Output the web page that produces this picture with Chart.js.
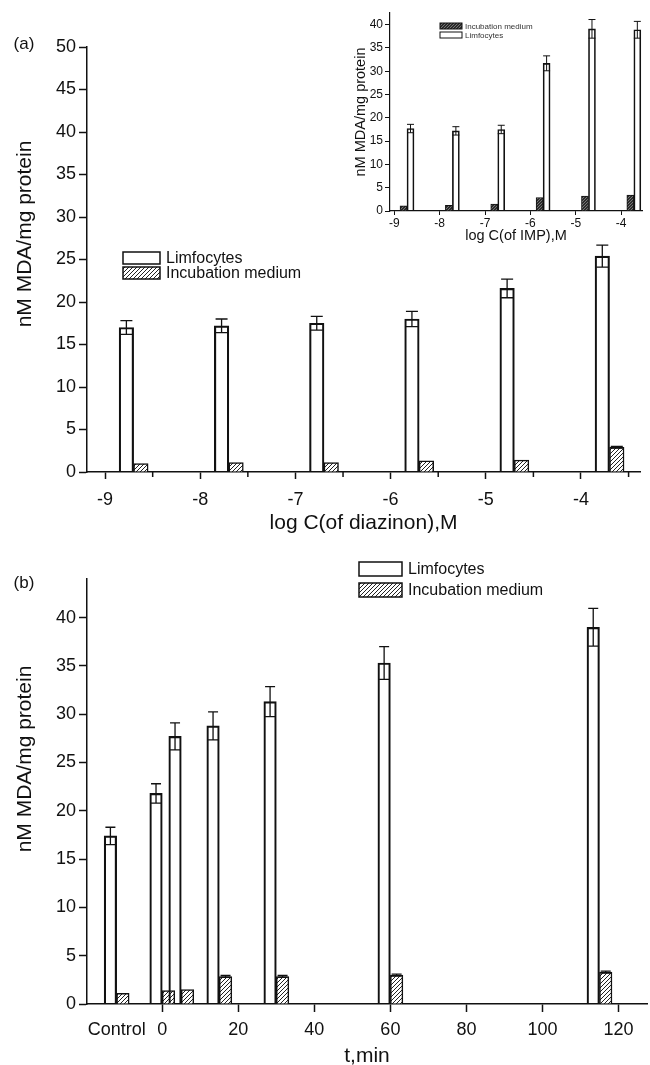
<!DOCTYPE html>
<html>
<head>
<meta charset="utf-8">
<script src="https://cdn.jsdelivr.net/npm/chart.js@4.4.0/dist/chart.umd.min.js"></script>
<style>
body { margin: 0; background: #fff; }
#wrap { position: relative; width: 650px; height: 1065px; }
canvas { position: absolute; }
</style>
</head>
<body>
<div id="wrap">
  <canvas id="chartA" width="650" height="540" style="left:0;top:0"></canvas>
  <canvas id="chartB" width="650" height="525" style="left:0;top:540px"></canvas>
  <canvas id="chartIn" width="310" height="250" style="left:340px;top:0"></canvas>
</div>
<script>
// (a) diazinon
var concA = [-9, -8, -7, -6, -5, -4];
var limA = [17.0, 17.2, 17.5, 18.0, 21.6, 25.4];
var limErrA = [0.8, 0.8, 0.8, 0.9, 1.1, 1.3];
var medA = [1.0, 1.1, 1.1, 1.3, 1.4, 2.9];
var medErrA = [0, 0, 0, 0, 0, 0.1];
var yTicksA = [0, 5, 10, 15, 20, 25, 30, 35, 40, 45, 50];
var minorA = [-8.5, -7.5, -6.5, -5.5, -4.5, -3.5];

// inset: IMP
var concIn = [-9, -8, -7, -6, -5, -4];
var medIn = [1.1, 1.2, 1.5, 2.9, 3.2, 3.4];
var limIn = [17.7, 17.2, 17.5, 31.7, 39.1, 38.9];
var limErrIn = [0.9, 0.9, 0.9, 1.6, 2.0, 1.8];
var yTicksIn = [0, 5, 10, 15, 20, 25, 30, 35, 40];

// (b) time course, -12 is the Control slot
var timeB = [-12, 0, 5, 15, 30, 60, 115];
var limB = [17.4, 21.8, 27.7, 28.8, 31.3, 35.3, 39.0];
var limErrB = [0.9, 1.0, 1.4, 1.45, 1.55, 1.7, 1.95];
var medB = [1.1, 1.4, 1.5, 2.85, 2.85, 3.0, 3.3];
var medErrB = [0, 0, 0, 0.1, 0.1, 0.1, 0.1];
var xTicksB = [-12, 0, 20, 40, 60, 80, 100, 120];
var yTicksB = [0, 5, 10, 15, 20, 25, 30, 35, 40];

var FONT = "'Liberation Sans', Arial, sans-serif";
var INK = '#111';
Chart.defaults.font.family = FONT;
Chart.defaults.color = INK;

function hatch(bg, fg, step, lw) {
    var c = document.createElement('canvas');
    c.width = step; c.height = step;
    var g = c.getContext('2d');
    g.fillStyle = bg;
    g.fillRect(0, 0, step, step);
    g.strokeStyle = fg;
    g.lineWidth = lw;
    g.beginPath();
    g.moveTo(-1, step + 1); g.lineTo(step + 1, -1);
    g.moveTo(-1, 1); g.lineTo(1, -1);
    g.moveTo(step - 1, step + 1); g.lineTo(step + 1, step - 1);
    g.stroke();
    return g.createPattern(c, 'repeat');
}
var hatchLight = hatch('#fff', '#222', 4, 1);
var hatchDark = hatch('#2b2b2b', '#8a8a8a', 3, 0.8);

function pts(xs, ys, shift) {
    return xs.map(function(x, i) { return {x: x + shift, y: ys[i]}; });
}
function fixTicks(list) {
    return function(s) { s.ticks = list.map(function(v) { return {value: v}; }); };
}

var errorBars = {
    id: 'errorBars',
    afterDatasetsDraw: function(chart, args, opts) {
        var ctx = chart.ctx, ys = chart.scales.y;
        ctx.save();
        ctx.strokeStyle = INK;
        ctx.lineWidth = opts.width;
        chart.data.datasets.forEach(function(ds, di) {
            if (!ds.errors) return;
            chart.getDatasetMeta(di).data.forEach(function(bar, i) {
                var e = ds.errors[i];
                if (!e) return;
                var v = ds.data[i].y, c = opts.cap;
                var t = ys.getPixelForValue(v + e), b = ys.getPixelForValue(v - e);
                ctx.beginPath();
                ctx.moveTo(bar.x, t); ctx.lineTo(bar.x, b);
                ctx.moveTo(bar.x - c, t); ctx.lineTo(bar.x + c, t);
                ctx.moveTo(bar.x - c, b); ctx.lineTo(bar.x + c, b);
                ctx.stroke();
            });
        });
        ctx.restore();
    }
};

var minorTicks = {
    id: 'minorTicks',
    afterDraw: function(chart, args, opts) {
        if (!opts.values) return;
        var xs = chart.scales.x, ctx = chart.ctx, y0 = chart.chartArea.bottom;
        ctx.save();
        ctx.strokeStyle = INK;
        ctx.lineWidth = 1.5;
        opts.values.forEach(function(v) {
            var px = xs.getPixelForValue(v);
            ctx.beginPath();
            ctx.moveTo(px, y0);
            ctx.lineTo(px, y0 + opts.length);
            ctx.stroke();
        });
        ctx.restore();
    }
};

var boxLegend = {
    id: 'boxLegend',
    afterDraw: function(chart, args, opts) {
        var ctx = chart.ctx;
        ctx.save();
        ctx.font = opts.size + 'px ' + FONT;
        ctx.textBaseline = 'middle';
        chart.data.datasets.forEach(function(ds, i) {
            var y = opts.y + i * opts.step;
            ctx.fillStyle = '#fff';
            ctx.fillRect(opts.x, y, opts.w, opts.h);
            ctx.fillStyle = ds.backgroundColor;
            ctx.fillRect(opts.x, y, opts.w, opts.h);
            ctx.lineWidth = opts.line;
            ctx.strokeStyle = INK;
            ctx.strokeRect(opts.x, y, opts.w, opts.h);
            ctx.fillStyle = opts.color || INK;
            ctx.fillText(ds.label, opts.x + opts.w + opts.gap, y + opts.h / 2 + 1);
        });
        ctx.restore();
    }
};

var notes = {
    id: 'notes',
    afterDraw: function(chart, args, opts) {
        var ctx = chart.ctx;
        (opts.items || []).forEach(function(n) {
            ctx.save();
            ctx.font = n.size + 'px ' + FONT;
            ctx.fillStyle = INK;
            ctx.textAlign = 'center';
            ctx.textBaseline = 'middle';
            ctx.translate(n.x, n.y);
            if (n.rot) ctx.rotate(n.rot);
            ctx.fillText(n.text, 0, 0);
            ctx.restore();
        });
    }
};

var plugins = [errorBars, minorTicks, boxLegend, notes];

// (a)
new Chart(document.getElementById('chartA'), {
    type: 'bar',
    plugins: plugins,
    data: {
        datasets: [{
            label: 'Limfocytes', data: pts(concA, limA, 0.3), errors: limErrA,
            backgroundColor: 'rgba(255,255,255,0)', borderColor: INK, borderWidth: 1.5, barThickness: 14.5
        }, {
            label: 'Incubation medium', data: pts(concA, medA, 0.3), errors: medErrA,
            backgroundColor: hatchLight, borderColor: INK, borderWidth: 1.5, barThickness: 14.5
        }]
    },
    options: {
        responsive: false,
        animation: false,
        layout: {padding: {top: 47, right: 10, left: 0, bottom: 0}},
        plugins: {
            legend: {display: false},
            tooltip: {enabled: false},
            errorBars: {cap: 6, width: 1.3},
            minorTicks: {values: minorA, length: 5},
            boxLegend: {x: 123, y: 252, step: 15, w: 37, h: 12, gap: 6, size: 16, line: 1.5},
            notes: {items: [
                {text: '(a)', x: 24, y: 44, size: 17},
                {text: 'nM MDA/mg protein', x: 25, y: 234, size: 21, rot: -Math.PI / 2}
            ]}
        },
        scales: {
            x: {
                type: 'linear', min: -9.19, max: -3.38, offset: false,
                afterBuildTicks: fixTicks(concA),
                afterFit: function(s) { s.height = 68; },
                grid: {drawOnChartArea: false, offset: false, tickLength: 7, tickWidth: 1.5, tickColor: INK},
                border: {color: INK, width: 1.5},
                ticks: {font: {size: 18}, padding: 10, autoSkip: false, maxRotation: 0,
                    callback: function(v) { return String(v); }},
                title: {display: true, text: 'log C(of diazinon),M', font: {size: 21}, padding: {top: 0, bottom: 4}}
            },
            y: {
                min: 0, max: 50,
                afterBuildTicks: fixTicks(yTicksA),
                afterFit: function(s) { s.width = 87; },
                grid: {drawOnChartArea: false, tickLength: 8, tickWidth: 1.5, tickColor: INK},
                border: {color: INK, width: 1.5},
                ticks: {font: {size: 18}, padding: 3}
            }
        }
    }
});

// inset
new Chart(document.getElementById('chartIn'), {
    type: 'bar',
    plugins: plugins,
    data: {
        datasets: [{
            label: 'Incubation medium', data: pts(concIn, medIn, 0.28),
            backgroundColor: hatchDark, borderColor: INK, borderWidth: 1, barThickness: 7
        }, {
            label: 'Limfocytes', data: pts(concIn, limIn, 0.28), errors: limErrIn,
            backgroundColor: 'rgba(255,255,255,0)', borderColor: INK, borderWidth: 1, barThickness: 7
        }]
    },
    options: {
        responsive: false,
        animation: false,
        layout: {padding: {top: 13, right: 8, left: 0, bottom: 0}},
        plugins: {
            legend: {display: false},
            tooltip: {enabled: false},
            errorBars: {cap: 3.5, width: 1},
            boxLegend: {x: 100, y: 23, step: 9, w: 22, h: 6, gap: 3, size: 8, line: 1, color: '#333'}
        },
        scales: {
            x: {
                type: 'linear', min: -9.095, max: -3.54, offset: false,
                afterBuildTicks: fixTicks(concIn),
                afterFit: function(s) { s.height = 39; },
                grid: {drawOnChartArea: false, offset: false, tickLength: 4, tickWidth: 1, tickColor: INK},
                border: {color: INK, width: 1.2},
                ticks: {font: {size: 12}, padding: 1, autoSkip: false, maxRotation: 0,
                    callback: function(v) { return String(v); }},
                title: {display: true, text: 'log C(of IMP),M', font: {size: 14.5}, padding: {top: 0, bottom: 5}}
            },
            y: {
                min: 0, max: 42.5,
                afterBuildTicks: fixTicks(yTicksIn),
                afterFit: function(s) { s.width = 50; },
                grid: {drawOnChartArea: false, tickLength: 5, tickWidth: 1, tickColor: INK},
                border: {color: INK, width: 1.2},
                ticks: {font: {size: 12}, padding: 2},
                title: {display: true, text: 'nM MDA/mg protein', font: {size: 14.5}, padding: {top: 12, bottom: 0}}
            }
        }
    }
});

// (b)
new Chart(document.getElementById('chartB'), {
    type: 'bar',
    plugins: plugins,
    data: {
        datasets: [{
            label: 'Limfocytes', data: pts(timeB, limB, 0), errors: limErrB,
            backgroundColor: 'rgba(255,255,255,0)', borderColor: INK, borderWidth: 1.5, barThickness: 12.5
        }, {
            label: 'Incubation medium', data: pts(timeB, medB, 0), errors: medErrB,
            backgroundColor: hatchLight, borderColor: INK, borderWidth: 1.5, barThickness: 12.5
        }]
    },
    options: {
        responsive: false,
        animation: false,
        layout: {padding: {top: 39, right: 3, left: 0, bottom: 0}},
        plugins: {
            legend: {display: false},
            tooltip: {enabled: false},
            errorBars: {cap: 5, width: 1.3},
            boxLegend: {x: 359, y: 22, step: 21, w: 43, h: 14, gap: 6, size: 16, line: 1.5},
            notes: {items: [
                {text: '(b)', x: 24, y: 43, size: 17},
                {text: 'nM MDA/mg protein', x: 25, y: 219, size: 21, rot: -Math.PI / 2}
            ]}
        },
        scales: {
            x: {
                type: 'linear', min: -19.8, max: 127.5, offset: false,
                afterBuildTicks: fixTicks(xTicksB),
                afterFit: function(s) { s.height = 61; },
                grid: {drawOnChartArea: false, offset: false, tickLength: 8, tickWidth: 1.5,
                    tickColor: function(c) { return c.tick && c.tick.value < 0 ? 'rgba(0,0,0,0)' : INK; }},
                border: {color: INK, width: 1.5},
                ticks: {font: {size: 18}, padding: 7, autoSkip: false, maxRotation: 0,
                    callback: function(v) { return v < 0 ? 'Control' : String(v); }},
                title: {display: true, text: 't,min', font: {size: 21, lineHeight: 0.8}, padding: {top: 0, bottom: 0}}
            },
            y: {
                min: 0, max: 44,
                afterBuildTicks: fixTicks(yTicksB),
                afterFit: function(s) { s.width = 87; },
                grid: {drawOnChartArea: false, tickLength: 8, tickWidth: 1.5, tickColor: INK},
                border: {color: INK, width: 1.5},
                ticks: {font: {size: 18}, padding: 3}
            }
        }
    }
});
</script>
</body>
</html>
